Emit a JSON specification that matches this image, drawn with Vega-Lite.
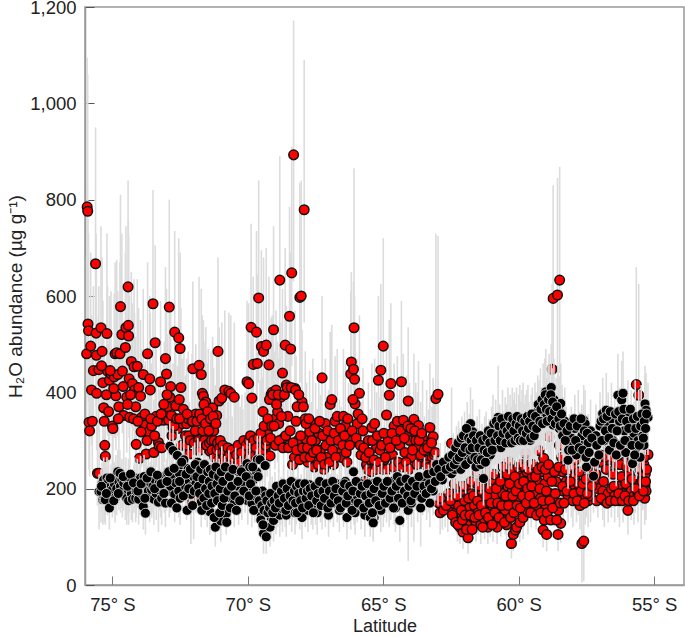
{"$schema":"https://vega.github.io/schema/vega-lite/v6.json","width":599,"height":578,"autosize":"none","padding":{"left":85,"top":7,"right":1,"bottom":52},"background":"white",
"data":{"values":[
{"lat":75.95,"r":480,"rl":340,"rh":680},{"lat":75.93,"r":785,"rl":560,"rh":1095},{"lat":75.91,"r":776,"rl":540,"rh":1060},{"lat":75.9,"r":542,"rl":390,"rh":760},{"lat":75.88,"r":528,"rl":380,"rh":730},{"lat":75.86,"r":338,"rl":240,"rh":470},{"lat":75.84,"r":320,"rl":225,"rh":450},{"lat":75.8,"r":496,"rl":350,"rh":690},{"lat":75.77,"r":405,"rl":290,"rh":560},{"lat":75.74,"r":340,"rl":240,"rh":480},{"lat":75.7,"r":445,"rl":320,"rh":620},{"lat":75.62,"r":667,"rl":470,"rh":950},{"lat":75.6,"r":523,"rl":370,"rh":730},{"lat":75.59,"r":477,"rl":340,"rh":660},{"lat":75.58,"r":398,"rl":280,"rh":560},{"lat":75.55,"r":232,"rl":165,"rh":330},{"lat":75.5,"r":447,"rl":315,"rh":620},{"lat":75.49,"r":232,"rl":165,"rh":325,"b":194,"bl":115,"bh":230},
{"lat":75.42,"r":534,"rl":380,"rh":745,"b":194,"bl":130,"bh":240},{"lat":75.38,"r":485,"rl":340,"rh":680,"b":210,"bl":150,"bh":255},{"lat":75.35,"r":420,"rl":300,"rh":590,"b":177,"bl":125,"bh":220},{"lat":75.32,"r":368,"rl":260,"rh":515,"b":218,"bl":160,"bh":265},{"lat":75.3,"r":340,"rl":240,"rh":480,"b":177,"bl":130,"bh":215},{"lat":75.28,"r":290,"rl":205,"rh":410,"b":205,"bl":150,"bh":250},{"lat":75.26,"r":267,"rl":190,"rh":375,"b":177,"bl":125,"bh":220},{"lat":75.2,"r":522,"rl":370,"rh":730,"b":222,"bl":160,"bh":265},{"lat":75.18,"r":444,"rl":310,"rh":620,"b":200,"bl":145,"bh":245},{"lat":75.14,"r":360,"rl":255,"rh":500,"b":215,"bl":155,"bh":260},{"lat":75.11,"r":425,"rl":300,"rh":600,"b":160,"bl":115,"bh":200},{"lat":75.05,"r":438,"rl":310,"rh":610,"b":205,"bl":150,"bh":250},{"lat":75.0,"r":330,"rl":235,"rh":460,"b":198,"bl":140,"bh":240},{"lat":74.98,"r":325,"rl":230,"rh":455,"b":218,"bl":160,"bh":265},{"lat":74.93,"r":432,"rl":305,"rh":605,"b":210,"bl":150,"bh":255},{"lat":74.9,"r":480,"rl":340,"rh":670,"b":181,"bl":130,"bh":225},{"lat":74.87,"r":393,"rl":280,"rh":550,"b":225,"bl":165,"bh":270},{"lat":74.84,"r":482,"rl":340,"rh":675,"b":200,"bl":145,"bh":245},{"lat":74.8,"r":437,"rl":310,"rh":610,"b":235,"bl":175,"bh":280},{"lat":74.76,"r":370,"rl":260,"rh":520,"b":215,"bl":155,"bh":260},{"lat":74.72,"r":480,"rl":340,"rh":670,"b":232,"bl":170,"bh":280},{"lat":74.7,"r":578,"rl":410,"rh":810,"b":205,"bl":150,"bh":250},{"lat":74.65,"r":520,"rl":370,"rh":730,"b":218,"bl":160,"bh":262},{"lat":74.63,"r":444,"rl":315,"rh":620,"b":195,"bl":140,"bh":240},{"lat":74.58,"r":352,"rl":250,"rh":490,"b":212,"bl":155,"bh":255},{"lat":74.52,"r":493,"rl":350,"rh":690,"b":185,"bl":135,"bh":230},{"lat":74.5,"r":534,"rl":380,"rh":745,"b":220,"bl":160,"bh":265},{"lat":74.47,"r":390,"rl":275,"rh":545,"b":180,"bl":125,"bh":225},{"lat":74.42,"r":619,"rl":440,"rh":840,"b":198,"bl":145,"bh":240},{"lat":74.41,"r":539,"rl":385,"rh":755,"b":218,"bl":160,"bh":262},{"lat":74.4,"r":517,"rl":365,"rh":725,"b":175,"bl":125,"bh":215},{"lat":74.38,"r":428,"rl":305,"rh":600,"b":205,"bl":150,"bh":250},{"lat":74.36,"r":348,"rl":245,"rh":485,"b":222,"bl":165,"bh":265},{"lat":74.3,"r":464,"rl":330,"rh":650,"b":190,"bl":135,"bh":235},{"lat":74.26,"r":418,"rl":295,"rh":585,"b":178,"bl":130,"bh":220},{"lat":74.2,"r":453,"rl":320,"rh":635,"b":205,"bl":150,"bh":250},{"lat":74.18,"r":405,"rl":285,"rh":565,"b":222,"bl":160,"bh":265},{"lat":74.14,"r":370,"rl":260,"rh":515,"b":180,"bl":130,"bh":225},{"lat":74.12,"r":292,"rl":205,"rh":410,"b":195,"bl":140,"bh":240},{"lat":74.08,"r":454,"rl":320,"rh":635,"b":218,"bl":160,"bh":262},{"lat":74.03,"r":410,"rl":290,"rh":575,"b":178,"bl":125,"bh":220},{"lat":74.0,"r":263,"rl":185,"rh":370,"b":200,"bl":145,"bh":245},{"lat":73.96,"r":392,"rl":280,"rh":550,"b":222,"bl":165,"bh":268},{"lat":73.92,"r":348,"rl":245,"rh":490,"b":190,"bl":140,"bh":232},{"lat":73.86,"r":437,"rl":310,"rh":615,"b":163,"bl":115,"bh":205},{"lat":73.83,"r":325,"rl":230,"rh":455,"b":225,"bl":165,"bh":270},{"lat":73.78,"r":332,"rl":235,"rh":465,"b":149,"bl":105,"bh":190},{"lat":73.75,"r":272,"rl":190,"rh":380,"b":215,"bl":155,"bh":260},{"lat":73.7,"r":480,"rl":340,"rh":670,"b":205,"bl":150,"bh":248},{"lat":73.67,"r":318,"rl":225,"rh":445,"b":195,"bl":140,"bh":235},{"lat":73.62,"r":428,"rl":305,"rh":600,"b":182,"bl":130,"bh":225},{"lat":73.6,"r":405,"rl":285,"rh":565,"b":212,"bl":155,"bh":255},{"lat":73.55,"r":330,"rl":235,"rh":460,"b":198,"bl":140,"bh":240},{"lat":73.5,"r":584,"rl":410,"rh":820,"b":205,"bl":150,"bh":250},{"lat":73.47,"r":275,"rl":195,"rh":385,"b":178,"bl":125,"bh":220},{"lat":73.42,"r":503,"rl":355,"rh":705,"b":218,"bl":160,"bh":262},{"lat":73.38,"r":350,"rl":245,"rh":490,"b":190,"bl":135,"bh":232},{"lat":73.3,"r":296,"rl":210,"rh":415,"b":172,"bl":110,"bh":215},{"lat":73.27,"r":288,"rl":200,"rh":405,"b":212,"bl":155,"bh":255},{"lat":73.22,"r":422,"rl":300,"rh":590,"b":195,"bl":140,"bh":240},{"lat":73.18,"r":285,"rl":200,"rh":400,"b":180,"bl":125,"bh":225},{"lat":73.12,"r":342,"rl":240,"rh":480,"b":225,"bl":165,"bh":270},{"lat":73.08,"r":360,"rl":255,"rh":505,"b":205,"bl":150,"bh":250},{"lat":73.04,"r":470,"rl":330,"rh":660,"b":170,"bl":120,"bh":215},{"lat":73.0,"r":438,"rl":310,"rh":615,"b":215,"bl":155,"bh":262},{"lat":72.96,"r":370,"rl":260,"rh":520,"b":232,"bl":170,"bh":280},{"lat":72.9,"r":577,"rl":410,"rh":800,"b":195,"bl":140,"bh":240},{"lat":72.88,"r":390,"rl":275,"rh":545,"b":288,"bl":220,"bh":340},{"lat":72.85,"r":412,"rl":290,"rh":575,"b":205,"bl":150,"bh":250},{"lat":72.8,"r":310,"rl":220,"rh":435,"b":225,"bl":165,"bh":270},{"lat":72.76,"r":327,"rl":230,"rh":460,"b":279,"bl":210,"bh":330},{"lat":72.7,"r":525,"rl":370,"rh":735,"b":188,"bl":130,"bh":230},{"lat":72.66,"r":372,"rl":260,"rh":520,"b":212,"bl":155,"bh":258},{"lat":72.6,"r":325,"rl":230,"rh":455,"b":269,"bl":205,"bh":320},{"lat":72.55,"r":513,"rl":360,"rh":720,"b":195,"bl":140,"bh":238},{"lat":72.53,"r":385,"rl":270,"rh":540,"b":232,"bl":170,"bh":280},{"lat":72.5,"r":491,"rl":345,"rh":690,"b":180,"bl":125,"bh":225},{"lat":72.47,"r":410,"rl":290,"rh":575,"b":250,"bl":190,"bh":300},{"lat":72.42,"r":335,"rl":235,"rh":470,"b":215,"bl":155,"bh":260},{"lat":72.36,"r":345,"rl":245,"rh":485,"b":260,"bl":195,"bh":310},{"lat":72.3,"r":310,"rl":220,"rh":435,"b":205,"bl":150,"bh":250},{"lat":72.26,"r":335,"rl":235,"rh":470,"b":190,"bl":135,"bh":235},{"lat":72.2,"r":345,"rl":245,"rh":485,"b":242,"bl":185,"bh":290},{"lat":72.16,"r":272,"rl":190,"rh":380,"b":215,"bl":155,"bh":262},{"lat":72.1,"r":168,"rl":85,"rh":235,"b":188,"bl":130,"bh":230},{"lat":72.06,"r":340,"rl":240,"rh":480,"b":205,"bl":150,"bh":250},{"lat":72.03,"r":449,"rl":315,"rh":630,"b":240,"bl":180,"bh":288},{"lat":72.0,"r":178,"rl":95,"rh":250,"b":225,"bl":165,"bh":270},{"lat":71.96,"r":302,"rl":215,"rh":425,"b":248,"bl":185,"bh":296},{"lat":71.92,"r":355,"rl":250,"rh":500,"b":210,"bl":150,"bh":255},{"lat":71.85,"r":280,"rl":195,"rh":395,"b":255,"bl":190,"bh":305},{"lat":71.8,"r":456,"rl":320,"rh":640,"b":228,"bl":165,"bh":275},{"lat":71.76,"r":280,"rl":200,"rh":395,"b":248,"bl":185,"bh":298},{"lat":71.72,"r":437,"rl":310,"rh":615,"b":172,"bl":120,"bh":215},{"lat":71.68,"r":398,"rl":280,"rh":560,"b":210,"bl":155,"bh":255},{"lat":71.64,"r":392,"rl":275,"rh":550,"b":232,"bl":170,"bh":280},{"lat":71.58,"r":360,"rl":255,"rh":505,"b":192,"bl":135,"bh":238},{"lat":71.55,"r":380,"rl":265,"rh":535,"b":215,"bl":155,"bh":260},{"lat":71.5,"r":330,"rl":230,"rh":460,"b":175,"bl":120,"bh":220},{"lat":71.46,"r":350,"rl":245,"rh":490,"b":205,"bl":150,"bh":250},{"lat":71.4,"r":278,"rl":195,"rh":390,"b":152,"bl":105,"bh":195},{"lat":71.36,"r":345,"rl":240,"rh":485,"b":225,"bl":165,"bh":270},{"lat":71.3,"r":368,"rl":260,"rh":515,"b":190,"bl":135,"bh":235},{"lat":71.26,"r":320,"rl":225,"rh":450,"b":215,"bl":155,"bh":262},{"lat":71.2,"r":295,"rl":210,"rh":415,"b":120,"bl":80,"bh":160},{"lat":71.15,"r":352,"rl":245,"rh":495,"b":232,"bl":170,"bh":280},{"lat":71.1,"r":485,"rl":340,"rh":680,"b":198,"bl":140,"bh":240},{"lat":71.06,"r":382,"rl":270,"rh":535,"b":215,"bl":155,"bh":262},{"lat":71.0,"r":282,"rl":195,"rh":395,"b":133,"bl":90,"bh":175},{"lat":70.96,"r":388,"rl":275,"rh":545,"b":240,"bl":180,"bh":288},{"lat":70.9,"r":285,"rl":200,"rh":400,"b":185,"bl":130,"bh":230},{"lat":70.85,"r":405,"rl":285,"rh":570,"b":222,"bl":160,"bh":268},{"lat":70.8,"r":245,"rl":170,"rh":345,"b":148,"bl":105,"bh":190},{"lat":70.76,"r":270,"rl":190,"rh":380,"b":205,"bl":150,"bh":250},{"lat":70.7,"r":402,"rl":285,"rh":565,"b":232,"bl":170,"bh":280},{"lat":70.63,"r":398,"rl":280,"rh":560,"b":180,"bl":125,"bh":225},{"lat":70.58,"r":248,"rl":175,"rh":350,"b":215,"bl":155,"bh":262},{"lat":70.5,"r":390,"rl":275,"rh":545,"b":170,"bl":120,"bh":215},{"lat":70.45,"r":270,"rl":190,"rh":380,"b":238,"bl":180,"bh":285},{"lat":70.4,"r":285,"rl":200,"rh":400,"b":205,"bl":145,"bh":250},{"lat":70.34,"r":272,"rl":190,"rh":385,"b":180,"bl":125,"bh":225},{"lat":70.28,"r":262,"rl":185,"rh":370,"b":222,"bl":160,"bh":268},{"lat":70.22,"r":282,"rl":195,"rh":395,"b":190,"bl":135,"bh":235},{"lat":70.18,"r":258,"rl":180,"rh":365,"b":240,"bl":180,"bh":288},{"lat":70.1,"r":285,"rl":200,"rh":400,"b":210,"bl":150,"bh":255},{"lat":70.03,"r":422,"rl":295,"rh":590,"b":252,"bl":190,"bh":300},{"lat":70.0,"r":270,"rl":190,"rh":380,"b":175,"bl":125,"bh":220},{"lat":69.97,"r":418,"rl":290,"rh":585,"b":225,"bl":165,"bh":270},{"lat":69.93,"r":285,"rl":200,"rh":400,"b":245,"bl":185,"bh":295},{"lat":69.88,"r":535,"rl":375,"rh":750,"b":205,"bl":150,"bh":250},{"lat":69.85,"r":388,"rl":270,"rh":545,"b":170,"bl":120,"bh":210},{"lat":69.8,"r":458,"rl":320,"rh":640,"b":218,"bl":160,"bh":265},{"lat":69.74,"r":268,"rl":190,"rh":375,"b":185,"bl":130,"bh":230},{"lat":69.68,"r":525,"rl":370,"rh":735,"b":235,"bl":175,"bh":282},{"lat":69.65,"r":460,"rl":325,"rh":645,"b":260,"bl":195,"bh":310},{"lat":69.6,"r":596,"rl":420,"rh":840,"b":160,"bl":110,"bh":205},{"lat":69.55,"r":302,"rl":210,"rh":425,"b":260,"bl":195,"bh":310},{"lat":69.5,"r":495,"rl":345,"rh":695,"b":145,"bl":95,"bh":190},{"lat":69.46,"r":305,"rl":215,"rh":430,"b":195,"bl":135,"bh":240},{"lat":69.42,"r":485,"rl":340,"rh":680,"b":107,"bl":65,"bh":145},{"lat":69.36,"r":283,"rl":200,"rh":400,"b":248,"bl":185,"bh":296},{"lat":69.32,"r":498,"rl":350,"rh":700,"b":100,"bl":65,"bh":140},{"lat":69.28,"r":318,"rl":225,"rh":445,"b":155,"bl":110,"bh":195},{"lat":69.22,"r":457,"rl":320,"rh":640,"b":170,"bl":120,"bh":215},{"lat":69.18,"r":268,"rl":190,"rh":375,"b":120,"bl":80,"bh":160},{"lat":69.14,"r":395,"rl":280,"rh":555,"b":140,"bl":95,"bh":185},{"lat":69.1,"r":400,"rl":280,"rh":560,"b":180,"bl":125,"bh":225},{"lat":69.05,"r":530,"rl":370,"rh":745,"b":134,"bl":90,"bh":175},{"lat":69.0,"r":345,"rl":240,"rh":485,"b":190,"bl":135,"bh":235},{"lat":68.96,"r":405,"rl":285,"rh":570,"b":150,"bl":105,"bh":195},{"lat":68.9,"r":360,"rl":255,"rh":505,"b":172,"bl":120,"bh":215},{"lat":68.86,"r":335,"rl":235,"rh":470,"b":195,"bl":140,"bh":240},{"lat":68.82,"r":633,"rl":445,"rh":890,"b":145,"bl":100,"bh":190},{"lat":68.78,"r":390,"rl":275,"rh":545,"b":180,"bl":125,"bh":225},{"lat":68.72,"r":440,"rl":310,"rh":615,"b":158,"bl":110,"bh":200},{"lat":68.68,"r":305,"rl":215,"rh":430,"b":205,"bl":150,"bh":250},{"lat":68.62,"r":498,"rl":350,"rh":700,"b":170,"bl":120,"bh":215},{"lat":68.58,"r":415,"rl":290,"rh":580,"b":145,"bl":100,"bh":190},{"lat":68.52,"r":350,"rl":245,"rh":490,"b":195,"bl":140,"bh":240},{"lat":68.46,"r":558,"rl":390,"rh":785,"b":178,"bl":125,"bh":225},{"lat":68.42,"r":490,"rl":345,"rh":690,"b":208,"bl":150,"bh":255},{"lat":68.38,"r":648,"rl":455,"rh":910,"b":160,"bl":110,"bh":205},{"lat":68.35,"r":250,"rl":175,"rh":350,"b":190,"bl":135,"bh":235},{"lat":68.31,"r":893,"rl":630,"rh":1172,"b":212,"bl":155,"bh":258},{"lat":68.26,"r":408,"rl":285,"rh":570,"b":150,"bl":105,"bh":195},{"lat":68.22,"r":340,"rl":240,"rh":475,"b":180,"bl":125,"bh":225},{"lat":68.15,"r":300,"rl":210,"rh":420,"b":200,"bl":145,"bh":245},{"lat":68.08,"r":597,"rl":420,"rh":835,"b":165,"bl":115,"bh":210},{"lat":68.03,"r":600,"rl":420,"rh":840,"b":185,"bl":130,"bh":230},{"lat":68.0,"r":380,"rl":265,"rh":530,"b":140,"bl":95,"bh":185},{"lat":67.92,"r":779,"rl":545,"rh":1090,"b":200,"bl":145,"bh":245},{"lat":67.88,"r":345,"rl":240,"rh":485,"b":172,"bl":120,"bh":215},{"lat":67.83,"r":300,"rl":210,"rh":420,"b":190,"bl":135,"bh":235},{"lat":67.78,"r":255,"rl":180,"rh":355,"b":155,"bl":110,"bh":200},{"lat":67.72,"r":318,"rl":225,"rh":445,"b":208,"bl":150,"bh":255},{"lat":67.66,"r":272,"rl":190,"rh":380,"b":180,"bl":125,"bh":225},{"lat":67.6,"r":335,"rl":235,"rh":470,"b":165,"bl":115,"bh":210},{"lat":67.55,"r":245,"rl":170,"rh":345,"b":195,"bl":140,"bh":240},{"lat":67.5,"r":300,"rl":210,"rh":420,"b":178,"bl":125,"bh":225},{"lat":67.44,"r":260,"rl":180,"rh":365,"b":150,"bl":105,"bh":195},{"lat":67.38,"r":315,"rl":220,"rh":440,"b":205,"bl":150,"bh":250},{"lat":67.32,"r":280,"rl":195,"rh":395,"b":185,"bl":130,"bh":230},{"lat":67.26,"r":430,"rl":300,"rh":600,"b":165,"bl":115,"bh":210},{"lat":67.2,"r":240,"rl":170,"rh":335,"b":195,"bl":140,"bh":240},{"lat":67.14,"r":335,"rl":235,"rh":470,"b":175,"bl":120,"bh":220},{"lat":67.08,"r":265,"rl":185,"rh":370,"b":205,"bl":150,"bh":250},{"lat":67.02,"r":290,"rl":205,"rh":405,"b":145,"bl":100,"bh":190},{"lat":66.96,"r":375,"rl":260,"rh":525,"b":185,"bl":130,"bh":230},{"lat":66.9,"r":385,"rl":270,"rh":540,"b":200,"bl":145,"bh":245},{"lat":66.84,"r":250,"rl":175,"rh":350,"b":170,"bl":120,"bh":215},{"lat":66.78,"r":340,"rl":240,"rh":475,"b":212,"bl":155,"bh":258},{"lat":66.7,"r":350,"rl":245,"rh":490,"b":185,"bl":130,"bh":230},{"lat":66.62,"r":275,"rl":190,"rh":385,"b":155,"bl":110,"bh":200},{"lat":66.55,"r":265,"rl":185,"rh":370,"b":205,"bl":150,"bh":250},{"lat":66.47,"r":350,"rl":245,"rh":490,"b":175,"bl":120,"bh":220},{"lat":66.4,"r":330,"rl":230,"rh":460,"b":215,"bl":155,"bh":260},{"lat":66.34,"r":255,"rl":180,"rh":355,"b":140,"bl":95,"bh":185},{"lat":66.28,"r":300,"rl":210,"rh":420,"b":190,"bl":135,"bh":235},{"lat":66.2,"r":438,"rl":305,"rh":610,"b":165,"bl":115,"bh":210},{"lat":66.18,"r":463,"rl":325,"rh":650,"b":205,"bl":150,"bh":250},{"lat":66.1,"r":448,"rl":315,"rh":630,"b":235,"bl":170,"bh":280},{"lat":66.08,"r":534,"rl":370,"rh":865,"b":178,"bl":125,"bh":225},{"lat":66.06,"r":427,"rl":300,"rh":600,"b":200,"bl":145,"bh":245},{"lat":66.04,"r":376,"rl":265,"rh":525,"b":150,"bl":105,"bh":195},{"lat":65.96,"r":335,"rl":235,"rh":470,"b":185,"bl":130,"bh":230},{"lat":65.88,"r":398,"rl":280,"rh":560,"b":212,"bl":155,"bh":258},{"lat":65.82,"r":270,"rl":190,"rh":380,"b":165,"bl":115,"bh":210},{"lat":65.75,"r":320,"rl":225,"rh":450,"b":195,"bl":140,"bh":240},{"lat":65.68,"r":215,"rl":150,"rh":300,"b":145,"bl":100,"bh":190},{"lat":65.62,"r":250,"rl":175,"rh":350,"b":205,"bl":150,"bh":250},{"lat":65.55,"r":300,"rl":210,"rh":420,"b":180,"bl":125,"bh":225},{"lat":65.48,"r":260,"rl":180,"rh":365,"b":140,"bl":100,"bh":185},{"lat":65.42,"r":327,"rl":230,"rh":460,"b":195,"bl":140,"bh":240},{"lat":65.37,"r":140,"rl":95,"rh":200,"b":129,"bl":90,"bh":170},{"lat":65.32,"r":335,"rl":235,"rh":470,"b":212,"bl":155,"bh":258},{"lat":65.25,"r":285,"rl":200,"rh":400,"b":170,"bl":120,"bh":215},{"lat":65.18,"r":425,"rl":295,"rh":600,"b":200,"bl":145,"bh":245},{"lat":65.12,"r":280,"rl":195,"rh":390,"b":185,"bl":130,"bh":230},{"lat":65.09,"r":446,"rl":310,"rh":625,"b":155,"bl":110,"bh":200},{"lat":65.06,"r":290,"rl":205,"rh":405,"b":210,"bl":155,"bh":255},{"lat":65.0,"r":496,"rl":345,"rh":720,"b":175,"bl":120,"bh":220},{"lat":64.96,"r":260,"rl":180,"rh":365,"b":195,"bl":140,"bh":240},{"lat":64.88,"r":353,"rl":245,"rh":495,"b":185,"bl":130,"bh":230},{"lat":64.82,"r":300,"rl":210,"rh":420,"b":205,"bl":150,"bh":250},{"lat":64.78,"r":394,"rl":275,"rh":550,"b":170,"bl":120,"bh":215},{"lat":64.72,"r":418,"rl":290,"rh":585,"b":190,"bl":135,"bh":235},{"lat":64.66,"r":270,"rl":190,"rh":380,"b":215,"bl":155,"bh":260},{"lat":64.6,"r":330,"rl":230,"rh":460,"b":180,"bl":125,"bh":225},{"lat":64.55,"r":255,"rl":180,"rh":355,"b":160,"bl":110,"bh":205},{"lat":64.48,"r":340,"rl":235,"rh":475,"b":225,"bl":165,"bh":270},{"lat":64.39,"r":290,"rl":205,"rh":405,"b":134,"bl":90,"bh":180},{"lat":64.33,"r":422,"rl":295,"rh":590,"b":195,"bl":140,"bh":240},{"lat":64.26,"r":342,"rl":240,"rh":480,"b":175,"bl":120,"bh":220},{"lat":64.2,"r":275,"rl":190,"rh":385,"b":212,"bl":155,"bh":258},{"lat":64.14,"r":310,"rl":215,"rh":435,"b":190,"bl":135,"bh":235},{"lat":64.08,"r":382,"rl":265,"rh":535,"b":155,"bl":50,"bh":200},{"lat":64.03,"r":300,"rl":210,"rh":420,"b":205,"bl":150,"bh":250},{"lat":63.96,"r":265,"rl":185,"rh":370,"b":170,"bl":120,"bh":215},{"lat":63.87,"r":344,"rl":240,"rh":480,"b":195,"bl":90,"bh":240},{"lat":63.8,"r":300,"rl":210,"rh":420,"b":215,"bl":155,"bh":260},{"lat":63.73,"r":285,"rl":200,"rh":400,"b":185,"bl":130,"bh":230},{"lat":63.7,"r":331,"rl":230,"rh":465,"b":210,"bl":150,"bh":255},{"lat":63.62,"r":270,"rl":190,"rh":380,"b":160,"bl":80,"bh":205},{"lat":63.55,"r":305,"rl":215,"rh":425,"b":200,"bl":145,"bh":245},{"lat":63.48,"r":250,"rl":175,"rh":350,"b":220,"bl":160,"bh":265},{"lat":63.4,"r":290,"rl":205,"rh":405,"b":190,"bl":135,"bh":235},{"lat":63.33,"r":260,"rl":180,"rh":365,"b":205,"bl":150,"bh":250},{"lat":63.28,"r":327,"rl":230,"rh":460,"b":170,"bl":120,"bh":215},{"lat":63.2,"r":265,"rl":185,"rh":370,"b":215,"bl":160,"bh":260},{"lat":63.16,"r":308,"rl":215,"rh":430,"b":195,"bl":145,"bh":240},{"lat":63.12,"r":270,"rl":190,"rh":380,"b":225,"bl":170,"bh":270},{"lat":63.06,"r":387,"rl":270,"rh":730,"b":235,"bl":175,"bh":280},{"lat":62.98,"r":396,"rl":275,"rh":725,"b":218,"bl":165,"bh":265},{"lat":62.9,"r":150,"rl":105,"rh":210,"b":245,"bl":185,"bh":295},{"lat":62.82,"r":165,"rl":115,"rh":230,"b":218,"bl":165,"bh":265},{"lat":62.72,"r":175,"rl":120,"rh":245,"b":250,"bl":190,"bh":300},
{"lat":62.62,"r":160,"rl":110,"rh":225,"b":235,"bl":175,"bh":285},{"lat":62.48,"r":294,"rl":205,"rh":410,"b":231,"bl":175,"bh":280},{"lat":62.42,"r":170,"rl":120,"rh":240,"b":262,"bl":200,"bh":315},{"lat":62.36,"r":190,"rl":135,"rh":265,"b":240,"bl":180,"bh":290},{"lat":62.3,"r":150,"rl":105,"rh":210,"b":275,"bl":210,"bh":330},{"lat":62.26,"r":130,"rl":90,"rh":185,"b":250,"bl":190,"bh":300},{"lat":62.22,"r":165,"rl":115,"rh":230,"b":280,"bl":215,"bh":340},{"lat":62.17,"r":120,"rl":85,"rh":170,"b":269,"bl":205,"bh":325},{"lat":62.14,"r":195,"rl":135,"rh":275,"b":240,"bl":180,"bh":290},{"lat":62.1,"r":145,"rl":100,"rh":205,"b":290,"bl":220,"bh":350},{"lat":62.06,"r":110,"rl":75,"rh":155,"b":262,"bl":200,"bh":315},{"lat":62.0,"r":175,"rl":120,"rh":245,"b":297,"bl":230,"bh":360},{"lat":61.96,"r":130,"rl":90,"rh":185,"b":250,"bl":190,"bh":300},{"lat":61.9,"r":205,"rl":145,"rh":290,"b":315,"bl":245,"bh":380},{"lat":61.87,"r":98,"rl":65,"rh":140,"b":275,"bl":210,"bh":330},{"lat":61.82,"r":160,"rl":110,"rh":225,"b":295,"bl":225,"bh":355},{"lat":61.78,"r":125,"rl":85,"rh":175,"b":335,"bl":260,"bh":410},{"lat":61.74,"r":190,"rl":130,"rh":265,"b":260,"bl":200,"bh":315},{"lat":61.7,"r":140,"rl":95,"rh":195,"b":318,"bl":250,"bh":385},{"lat":61.64,"r":165,"rl":115,"rh":230,"b":280,"bl":215,"bh":340},{"lat":61.58,"r":130,"rl":90,"rh":185,"b":245,"bl":185,"bh":295},{"lat":61.54,"r":210,"rl":145,"rh":295,"b":290,"bl":225,"bh":350},{"lat":61.5,"r":150,"rl":105,"rh":210,"b":270,"bl":205,"bh":325},{"lat":61.45,"r":180,"rl":125,"rh":250,"b":300,"bl":230,"bh":365},{"lat":61.4,"r":125,"rl":85,"rh":175,"b":250,"bl":190,"bh":300},{"lat":61.36,"r":195,"rl":135,"rh":275,"b":275,"bl":210,"bh":335},{"lat":61.3,"r":160,"rl":110,"rh":225,"b":221,"bl":165,"bh":270},{"lat":61.26,"r":135,"rl":95,"rh":190,"b":290,"bl":225,"bh":350},{"lat":61.2,"r":205,"rl":140,"rh":285,"b":297,"bl":230,"bh":360},{"lat":61.14,"r":120,"rl":85,"rh":170,"b":265,"bl":200,"bh":320},{"lat":61.1,"r":170,"rl":120,"rh":240,"b":285,"bl":220,"bh":345},{"lat":61.05,"r":145,"rl":100,"rh":205,"b":270,"bl":205,"bh":325},{"lat":61.0,"r":215,"rl":150,"rh":300,"b":305,"bl":235,"bh":370},{"lat":60.95,"r":130,"rl":90,"rh":185,"b":325,"bl":250,"bh":395},{"lat":60.9,"r":185,"rl":130,"rh":260,"b":285,"bl":220,"bh":345},{"lat":60.85,"r":155,"rl":110,"rh":220,"b":320,"bl":250,"bh":385},{"lat":60.8,"r":120,"rl":85,"rh":170,"b":295,"bl":230,"bh":355},{"lat":60.76,"r":205,"rl":140,"rh":285,"b":348,"bl":275,"bh":455},{"lat":60.7,"r":170,"rl":120,"rh":240,"b":310,"bl":240,"bh":375},{"lat":60.66,"r":140,"rl":100,"rh":200,"b":285,"bl":220,"bh":345},{"lat":60.6,"r":190,"rl":130,"rh":265,"b":335,"bl":260,"bh":405},{"lat":60.55,"r":225,"rl":155,"rh":315,"b":300,"bl":235,"bh":360},{"lat":60.5,"r":155,"rl":105,"rh":215,"b":325,"bl":255,"bh":390},{"lat":60.45,"r":125,"rl":85,"rh":175,"b":310,"bl":240,"bh":375},{"lat":60.4,"r":205,"rl":145,"rh":285,"b":340,"bl":265,"bh":410},{"lat":60.36,"r":256,"rl":180,"rh":360,"b":295,"bl":230,"bh":355},{"lat":60.32,"r":175,"rl":120,"rh":245,"b":325,"bl":255,"bh":395},{"lat":60.27,"r":86,"rl":55,"rh":130,"b":305,"bl":240,"bh":370},{"lat":60.24,"r":195,"rl":135,"rh":270,"b":340,"bl":265,"bh":410},{"lat":60.2,"r":105,"rl":70,"rh":150,"b":318,"bl":250,"bh":385},{"lat":60.16,"r":215,"rl":150,"rh":300,"b":330,"bl":260,"bh":400},{"lat":60.12,"r":114,"rl":78,"rh":160,"b":310,"bl":245,"bh":375},{"lat":60.08,"r":120,"rl":82,"rh":170,"b":340,"bl":265,"bh":410},{"lat":60.04,"r":235,"rl":165,"rh":330,"b":300,"bl":235,"bh":360},{"lat":60.0,"r":180,"rl":125,"rh":250,"b":325,"bl":255,"bh":395},{"lat":59.96,"r":130,"rl":90,"rh":185,"b":345,"bl":270,"bh":415},{"lat":59.92,"r":240,"rl":170,"rh":335,"b":315,"bl":245,"bh":380},{"lat":59.88,"r":205,"rl":140,"rh":285,"b":335,"bl":265,"bh":405},{"lat":59.84,"r":140,"rl":95,"rh":195,"b":346,"bl":270,"bh":420},{"lat":59.8,"r":225,"rl":155,"rh":315,"b":310,"bl":240,"bh":375},{"lat":59.76,"r":195,"rl":135,"rh":270,"b":325,"bl":255,"bh":395},{"lat":59.74,"r":273,"rl":190,"rh":380,"b":300,"bl":235,"bh":360},{"lat":59.7,"r":235,"rl":165,"rh":330,"b":335,"bl":260,"bh":405},{"lat":59.66,"r":152,"rl":105,"rh":215,"b":345,"bl":270,"bh":415},{"lat":59.62,"r":210,"rl":145,"rh":295,"b":315,"bl":245,"bh":380},{"lat":59.58,"r":250,"rl":175,"rh":350,"b":300,"bl":235,"bh":360},{"lat":59.54,"r":175,"rl":120,"rh":245,"b":325,"bl":250,"bh":395},{"lat":59.5,"r":225,"rl":155,"rh":315,"b":340,"bl":265,"bh":410},{"lat":59.45,"r":190,"rl":135,"rh":265,"b":315,"bl":245,"bh":380},{"lat":59.4,"r":245,"rl":170,"rh":345,"b":345,"bl":270,"bh":420},{"lat":59.36,"r":165,"rl":115,"rh":230,"b":330,"bl":255,"bh":400},{"lat":59.3,"r":215,"rl":150,"rh":300,"b":360,"bl":280,"bh":435},{"lat":59.25,"r":279,"rl":195,"rh":390,"b":349,"bl":275,"bh":425},{"lat":59.2,"r":180,"rl":125,"rh":250,"b":370,"bl":290,"bh":450},{"lat":59.16,"r":235,"rl":165,"rh":330,"b":340,"bl":265,"bh":410},{"lat":59.1,"r":114,"rl":78,"rh":160,"b":380,"bl":300,"bh":460},{"lat":59.08,"r":263,"rl":185,"rh":370,"b":360,"bl":280,"bh":435},{"lat":59.04,"r":210,"rl":145,"rh":295,"b":385,"bl":300,"bh":470},{"lat":59.0,"r":165,"rl":115,"rh":230,"b":401,"bl":315,"bh":490},{"lat":58.97,"r":105,"rl":70,"rh":150,"b":355,"bl":280,"bh":430},{"lat":58.92,"r":225,"rl":155,"rh":315,"b":375,"bl":295,"bh":455},{"lat":58.88,"r":308,"rl":215,"rh":430,"b":395,"bl":310,"bh":480},{"lat":58.84,"r":190,"rl":130,"rh":265,"b":345,"bl":270,"bh":420},{"lat":58.8,"r":240,"rl":165,"rh":335,"b":410,"bl":320,"bh":500},{"lat":58.77,"r":448,"rl":310,"rh":625,"b":370,"bl":290,"bh":450},{"lat":58.73,"r":595,"rl":415,"rh":830,"b":332,"bl":260,"bh":405},{"lat":58.7,"r":175,"rl":120,"rh":245,"b":385,"bl":300,"bh":470},{"lat":58.62,"r":215,"rl":150,"rh":300,"b":355,"bl":280,"bh":430},{"lat":58.57,"r":602,"rl":420,"rh":845,"b":340,"bl":265,"bh":410},{"lat":58.55,"r":105,"rl":70,"rh":150,"b":375,"bl":295,"bh":455},{"lat":58.53,"r":155,"rl":105,"rh":215,"b":350,"bl":275,"bh":425},{"lat":58.5,"r":290,"rl":205,"rh":405,"b":325,"bl":255,"bh":395},{"lat":58.49,"r":633,"rl":440,"rh":868,"b":360,"bl":285,"bh":435},{"lat":58.45,"r":128,"rl":88,"rh":180,"b":377,"bl":295,"bh":460},{"lat":58.4,"r":235,"rl":165,"rh":330,"b":345,"bl":270,"bh":415},{"lat":58.36,"r":195,"rl":135,"rh":270,"b":320,"bl":250,"bh":390},{"lat":58.3,"r":260,"rl":180,"rh":365,"b":340,"bl":265,"bh":410},{"lat":58.25,"r":215,"rl":150,"rh":300,"b":305,"bl":240,"bh":370},{"lat":58.18,"r":185,"rl":130,"rh":260,"b":259,"bl":200,"bh":315},{"lat":58.13,"r":240,"rl":165,"rh":335,"b":295,"bl":230,"bh":355},{"lat":58.06,"r":205,"rl":140,"rh":285,"b":305,"bl":240,"bh":370},{"lat":58.0,"r":175,"rl":120,"rh":245,"b":290,"bl":225,"bh":350},{"lat":57.93,"r":225,"rl":155,"rh":315,"b":325,"bl":255,"bh":395},{"lat":57.87,"r":190,"rl":130,"rh":265,"b":270,"bl":205,"bh":325},{"lat":57.8,"r":210,"rl":145,"rh":295,"b":335,"bl":260,"bh":405},{"lat":57.74,"r":165,"rl":115,"rh":230,"b":300,"bl":235,"bh":360},{"lat":57.67,"r":86,"rl":5,"rh":165,"b":310,"bl":240,"bh":375},{"lat":57.6,"r":91,"rl":8,"rh":170,"b":342,"bl":270,"bh":415},{"lat":57.55,"r":180,"rl":125,"rh":250,"b":335,"bl":260,"bh":405},{"lat":57.5,"r":200,"rl":140,"rh":280,"b":245,"bl":185,"bh":295},{"lat":57.44,"r":175,"rl":120,"rh":245,"b":295,"bl":230,"bh":355},{"lat":57.35,"r":185,"rl":130,"rh":260,"b":320,"bl":250,"bh":385},{"lat":57.24,"r":215,"rl":150,"rh":300,"b":226,"bl":170,"bh":275},{"lat":57.15,"r":230,"rl":160,"rh":320,"b":310,"bl":240,"bh":375},{"lat":57.08,"r":200,"rl":140,"rh":280,"b":297,"bl":230,"bh":360},{"lat":57.0,"r":255,"rl":180,"rh":355,"b":330,"bl":255,"bh":400},{"lat":56.9,"r":195,"rl":135,"rh":270,"b":356,"bl":280,"bh":430},{"lat":56.84,"r":175,"rl":120,"rh":245,"b":300,"bl":235,"bh":360},{"lat":56.77,"r":240,"rl":170,"rh":335,"b":363,"bl":285,"bh":440},{"lat":56.7,"r":190,"rl":130,"rh":265,"b":330,"bl":260,"bh":400},{"lat":56.65,"r":260,"rl":180,"rh":365,"b":280,"bl":215,"bh":340},{"lat":56.58,"r":200,"rl":140,"rh":280,"b":345,"bl":270,"bh":420},{"lat":56.52,"r":230,"rl":160,"rh":320,"b":300,"bl":235,"bh":360},{"lat":56.46,"r":185,"rl":130,"rh":260,"b":325,"bl":255,"bh":395},{"lat":56.4,"r":250,"rl":175,"rh":350,"b":270,"bl":205,"bh":330},{"lat":56.34,"r":205,"rl":140,"rh":285,"b":394,"bl":310,"bh":480},{"lat":56.28,"r":175,"rl":120,"rh":245,"b":340,"bl":265,"bh":410},{"lat":56.2,"r":225,"rl":155,"rh":315,"b":384,"bl":300,"bh":465},{"lat":56.15,"r":190,"rl":130,"rh":265,"b":398,"bl":315,"bh":485},{"lat":56.1,"r":255,"rl":180,"rh":355,"b":320,"bl":250,"bh":385},{"lat":56.05,"r":210,"rl":145,"rh":295,"b":275,"bl":210,"bh":335},{"lat":55.97,"r":155,"rl":105,"rh":215,"b":350,"bl":275,"bh":425},{"lat":55.92,"r":230,"rl":160,"rh":320,"b":300,"bl":235,"bh":365},{"lat":55.85,"r":195,"rl":135,"rh":270,"b":335,"bl":260,"bh":405},{"lat":55.8,"r":265,"rl":185,"rh":370,"b":252,"bl":195,"bh":305},{"lat":55.75,"r":185,"rl":125,"rh":260,"b":315,"bl":245,"bh":380},{"lat":55.7,"r":215,"rl":150,"rh":300,"b":350,"bl":275,"bh":425},{"lat":55.66,"r":416,"rl":275,"rh":660,"b":285,"bl":220,"bh":345},{"lat":55.6,"r":190,"rl":130,"rh":265,"b":300,"bl":235,"bh":360},{"lat":55.57,"r":394,"rl":220,"rh":625,"b":335,"bl":260,"bh":405},{"lat":55.52,"r":240,"rl":165,"rh":335,"b":265,"bl":200,"bh":320},{"lat":55.48,"r":200,"rl":95,"rh":280,"b":342,"bl":270,"bh":415},{"lat":55.42,"r":225,"rl":155,"rh":315,"b":310,"bl":240,"bh":375},{"lat":55.38,"r":250,"rl":175,"rh":350,"b":290,"bl":225,"bh":350},{"lat":55.35,"r":180,"rl":125,"rh":250,"b":360,"bl":285,"bh":435},{"lat":55.34,"r":205,"rl":140,"rh":285,"b":376,"bl":295,"bh":455},{"lat":55.33,"r":230,"rl":160,"rh":320,"b":345,"bl":270,"bh":415},{"lat":55.3,"r":195,"rl":135,"rh":270,"b":363,"bl":285,"bh":440},{"lat":55.23,"r":271,"rl":190,"rh":380,"b":348,"bl":270,"bh":420},
{"lat":75.4,"r":455,"b":205},{"lat":75.22,"r":395,"b":190},{"lat":75.08,"r":445,"b":222},{"lat":74.95,"r":408,"b":175},{"lat":74.78,"r":345,"b":190},{"lat":74.6,"r":412,"b":225},{"lat":74.44,"r":375,"b":205},{"lat":74.33,"r":395,"b":230},{"lat":74.22,"r":345,"b":212},{"lat":74.06,"r":340,"b":195},{"lat":73.94,"r":318,"b":210},{"lat":73.8,"r":355,"b":180},{"lat":73.72,"r":300,"b":222},{"lat":73.58,"r":345,"b":235},{"lat":73.44,"r":310,"b":200},{"lat":73.34,"r":340,"b":228},{"lat":73.2,"r":355,"b":210},{"lat":73.1,"r":375,"b":190},{"lat":72.98,"r":395,"b":215},{"lat":72.92,"r":342,"b":235},{"lat":72.82,"r":352,"b":170},{"lat":72.72,"r":330,"b":242},{"lat":72.62,"r":345,"b":160},{"lat":72.52,"r":345,"b":215},{"lat":72.44,"r":290,"b":255},{"lat":72.38,"r":365,"b":185},{"lat":72.28,"r":290,"b":230},{"lat":72.24,"r":355,"b":155},{"lat":72.18,"r":310,"b":200},{"lat":72.12,"r":300,"b":240},{"lat":72.04,"r":340,"b":165},{"lat":71.98,"r":295,"b":195},{"lat":71.94,"r":320,"b":250},{"lat":71.88,"r":340,"b":225},{"lat":71.82,"r":300,"b":205},{"lat":71.78,"r":355,"b":190},{"lat":71.74,"r":295,"b":240},{"lat":71.7,"r":345,"b":155},{"lat":71.66,"r":320,"b":220},{"lat":71.62,"r":375,"b":180},{"lat":71.6,"r":300,"b":250},{"lat":71.56,"r":335,"b":200},{"lat":71.52,"r":290,"b":165},{"lat":71.48,"r":360,"b":235},{"lat":71.44,"r":320,"b":190},{"lat":71.42,"r":295,"b":215},{"lat":71.38,"r":345,"b":240},{"lat":71.34,"r":300,"b":170},{"lat":71.32,"r":280,"b":205},{"lat":71.28,"r":350,"b":230},{"lat":71.24,"r":300,"b":140},{"lat":71.22,"r":265,"b":190},{"lat":71.18,"r":335,"b":245},{"lat":71.14,"r":280,"b":210},{"lat":71.12,"r":295,"b":175},{"lat":71.08,"r":260,"b":225},{"lat":71.04,"r":285,"b":150},{"lat":71.02,"r":300,"b":200},{"lat":70.98,"r":250,"b":235},{"lat":70.94,"r":275,"b":165},{"lat":70.92,"r":290,"b":215},{"lat":70.88,"r":265,"b":180},{"lat":70.83,"r":280,"b":245},{"lat":70.78,"r":260,"b":130},{"lat":70.74,"r":285,"b":195},{"lat":70.68,"r":270,"b":225},{"lat":70.65,"r":250,"b":160},{"lat":70.6,"r":280,"b":205},{"lat":70.55,"r":265,"b":240},{"lat":70.48,"r":245,"b":185},{"lat":70.42,"r":270,"b":155},{"lat":70.36,"r":290,"b":215},{"lat":70.3,"r":255,"b":175},{"lat":70.24,"r":275,"b":235},{"lat":70.15,"r":300,"b":195},{"lat":70.06,"r":290,"b":225},{"lat":69.95,"r":300,"b":185},{"lat":69.9,"r":310,"b":210},{"lat":69.82,"r":255,"b":245},{"lat":69.78,"r":300,"b":155},{"lat":69.7,"r":285,"b":195},{"lat":69.62,"r":305,"b":225},{"lat":69.58,"r":270,"b":175},{"lat":69.52,"r":315,"b":135},{"lat":69.48,"r":280,"b":165},{"lat":69.44,"r":360,"b":125},{"lat":69.4,"r":330,"b":155},{"lat":69.34,"r":290,"b":185},{"lat":69.3,"r":300,"b":175},{"lat":69.26,"r":345,"b":150},{"lat":69.2,"r":385,"b":160},{"lat":69.16,"r":305,"b":190},{"lat":69.12,"r":330,"b":170},{"lat":69.08,"r":395,"b":150},{"lat":69.03,"r":330,"b":175},{"lat":68.98,"r":290,"b":160},{"lat":68.94,"r":375,"b":205},{"lat":68.88,"r":395,"b":185},{"lat":68.84,"r":300,"b":170},{"lat":68.76,"r":350,"b":195},{"lat":68.7,"r":285,"b":210},{"lat":68.65,"r":395,"b":180},{"lat":68.6,"r":310,"b":155},{"lat":68.55,"r":410,"b":200},{"lat":68.5,"r":285,"b":165},{"lat":68.44,"r":320,"b":185},{"lat":68.4,"r":410,"b":215},{"lat":68.33,"r":295,"b":175},{"lat":68.28,"r":265,"b":195},{"lat":68.24,"r":405,"b":170},{"lat":68.2,"r":280,"b":205},{"lat":68.18,"r":370,"b":150},{"lat":68.12,"r":395,"b":190},{"lat":68.1,"r":260,"b":210},{"lat":68.05,"r":310,"b":175},{"lat":67.98,"r":285,"b":160},{"lat":67.95,"r":370,"b":195},{"lat":67.9,"r":265,"b":210},{"lat":67.85,"r":335,"b":180},{"lat":67.8,"r":285,"b":195},{"lat":67.75,"r":345,"b":165},{"lat":67.7,"r":265,"b":200},{"lat":67.64,"r":300,"b":185},{"lat":67.58,"r":275,"b":150},{"lat":67.52,"r":325,"b":205},{"lat":67.46,"r":280,"b":175},{"lat":67.4,"r":250,"b":190},{"lat":67.35,"r":340,"b":215},{"lat":67.29,"r":265,"b":165},{"lat":67.23,"r":310,"b":195},{"lat":67.17,"r":250,"b":180},{"lat":67.11,"r":290,"b":210},{"lat":67.05,"r":320,"b":160},{"lat":66.99,"r":255,"b":195},{"lat":66.93,"r":300,"b":170},{"lat":66.87,"r":280,"b":215},{"lat":66.81,"r":315,"b":185},{"lat":66.75,"r":265,"b":200},{"lat":66.66,"r":300,"b":175},{"lat":66.58,"r":325,"b":160},{"lat":66.5,"r":290,"b":195},{"lat":66.43,"r":310,"b":210},{"lat":66.37,"r":275,"b":170},{"lat":66.31,"r":345,"b":185},{"lat":66.24,"r":290,"b":205},{"lat":66.15,"r":320,"b":155},{"lat":66.12,"r":385,"b":195},{"lat":66.0,"r":305,"b":215},{"lat":65.93,"r":355,"b":170},{"lat":65.85,"r":290,"b":190},{"lat":65.78,"r":345,"b":205},{"lat":65.72,"r":285,"b":160},{"lat":65.65,"r":265,"b":185},{"lat":65.58,"r":240,"b":210},{"lat":65.52,"r":275,"b":170},{"lat":65.45,"r":235,"b":190},{"lat":65.4,"r":300,"b":150},{"lat":65.34,"r":260,"b":200},{"lat":65.28,"r":240,"b":175},{"lat":65.22,"r":310,"b":215},{"lat":65.15,"r":255,"b":165},{"lat":65.04,"r":240,"b":190},{"lat":64.98,"r":315,"b":205},{"lat":64.92,"r":265,"b":170},{"lat":64.85,"r":240,"b":215},{"lat":64.75,"r":285,"b":180},{"lat":64.68,"r":315,"b":195},{"lat":64.62,"r":245,"b":160},{"lat":64.52,"r":300,"b":205},{"lat":64.44,"r":255,"b":180},{"lat":64.36,"r":320,"b":215},{"lat":64.3,"r":245,"b":170},{"lat":64.22,"r":305,"b":195},{"lat":64.16,"r":255,"b":220},{"lat":64.1,"r":330,"b":185},{"lat":64.05,"r":240,"b":205},{"lat":63.98,"r":325,"b":175},{"lat":63.92,"r":280,"b":215},{"lat":63.84,"r":320,"b":190},{"lat":63.76,"r":250,"b":205},{"lat":63.68,"r":300,"b":225},{"lat":63.58,"r":315,"b":180},{"lat":63.5,"r":280,"b":205},{"lat":63.42,"r":250,"b":190},{"lat":63.36,"r":285,"b":230},{"lat":63.3,"r":245,"b":210},{"lat":63.22,"r":295,"b":200},{"lat":63.14,"r":250,"b":235},{"lat":63.08,"r":275,"b":215},{"lat":63.03,"r":245,"b":250},{"lat":62.95,"r":170,"b":240},{"lat":62.88,"r":180,"b":225},{"lat":62.78,"r":155,"b":255},{"lat":62.68,"r":165,"b":240},{"lat":62.58,"r":190,"b":265},{"lat":62.52,"r":175,"b":245},{"lat":62.45,"r":145,"b":270},{"lat":62.38,"r":210,"b":250},{"lat":62.33,"r":130,"b":285},{"lat":62.28,"r":185,"b":260},{"lat":62.24,"r":125,"b":295},{"lat":62.2,"r":205,"b":265},{"lat":62.12,"r":155,"b":305},{"lat":62.08,"r":135,"b":275},{"lat":62.04,"r":205,"b":310},{"lat":61.98,"r":145,"b":285},{"lat":61.93,"r":115,"b":325},{"lat":61.85,"r":180,"b":305},{"lat":61.8,"r":145,"b":280},{"lat":61.76,"r":215,"b":300},{"lat":61.72,"r":115,"b":285},{"lat":61.67,"r":185,"b":310},{"lat":61.62,"r":140,"b":265},{"lat":61.56,"r":235,"b":300},{"lat":61.52,"r":175,"b":260},{"lat":61.47,"r":145,"b":285},{"lat":61.42,"r":205,"b":310},{"lat":61.38,"r":165,"b":260},{"lat":61.33,"r":120,"b":300},{"lat":61.28,"r":220,"b":280},{"lat":61.23,"r":150,"b":255},{"lat":61.18,"r":185,"b":305},{"lat":61.16,"r":235,"b":275},{"lat":61.12,"r":140,"b":320},{"lat":61.07,"r":200,"b":295},{"lat":61.02,"r":170,"b":315},{"lat":60.98,"r":125,"b":280},{"lat":60.92,"r":230,"b":335},{"lat":60.88,"r":150,"b":300},{"lat":60.83,"r":200,"b":340},{"lat":60.78,"r":170,"b":310},{"lat":60.73,"r":140,"b":330},{"lat":60.68,"r":215,"b":300},{"lat":60.63,"r":165,"b":345},{"lat":60.58,"r":245,"b":315},{"lat":60.53,"r":130,"b":330},{"lat":60.48,"r":185,"b":295},{"lat":60.43,"r":230,"b":320},{"lat":60.38,"r":165,"b":350},{"lat":60.34,"r":210,"b":310},{"lat":60.3,"r":140,"b":330},{"lat":60.26,"r":240,"b":295},{"lat":60.22,"r":185,"b":345},{"lat":60.18,"r":150,"b":320},{"lat":60.14,"r":225,"b":300},{"lat":60.1,"r":195,"b":335},{"lat":60.06,"r":165,"b":350},{"lat":60.02,"r":245,"b":305},{"lat":59.98,"r":210,"b":330},{"lat":59.94,"r":160,"b":300},{"lat":59.9,"r":250,"b":345},{"lat":59.86,"r":185,"b":320},{"lat":59.82,"r":215,"b":300},{"lat":59.78,"r":245,"b":340},{"lat":59.72,"r":170,"b":315},{"lat":59.68,"r":200,"b":350},{"lat":59.64,"r":240,"b":325},{"lat":59.6,"r":185,"b":340},{"lat":59.56,"r":150,"b":305},{"lat":59.52,"r":205,"b":355},{"lat":59.48,"r":250,"b":330},{"lat":59.43,"r":170,"b":310},{"lat":59.38,"r":225,"b":350},{"lat":59.34,"r":145,"b":325},{"lat":59.28,"r":240,"b":375},{"lat":59.22,"r":200,"b":340},{"lat":59.18,"r":150,"b":365},{"lat":59.14,"r":245,"b":385},{"lat":59.12,"r":175,"b":335},{"lat":59.06,"r":135,"b":375},{"lat":59.02,"r":240,"b":395},{"lat":58.98,"r":195,"b":365},{"lat":58.95,"r":150,"b":340},{"lat":58.9,"r":250,"b":385},{"lat":58.86,"r":175,"b":360},{"lat":58.82,"r":135,"b":395},{"lat":58.78,"r":215,"b":345},{"lat":58.75,"r":160,"b":380},{"lat":58.68,"r":235,"b":360},{"lat":58.65,"r":190,"b":335},{"lat":58.6,"r":135,"b":370},{"lat":58.52,"r":245,"b":345},{"lat":58.47,"r":170,"b":330},{"lat":58.42,"r":265,"b":355},{"lat":58.38,"r":205,"b":310},{"lat":58.33,"r":170,"b":335},{"lat":58.28,"r":240,"b":300},{"lat":58.22,"r":195,"b":320},{"lat":58.16,"r":265,"b":280},{"lat":58.1,"r":215,"b":330},{"lat":58.03,"r":245,"b":280},{"lat":57.96,"r":190,"b":345},{"lat":57.9,"r":260,"b":300},{"lat":57.84,"r":175,"b":330},{"lat":57.77,"r":235,"b":285},{"lat":57.7,"r":195,"b":345},{"lat":57.64,"r":210,"b":280},{"lat":57.58,"r":170,"b":320},{"lat":57.52,"r":220,"b":265},{"lat":57.47,"r":190,"b":315},{"lat":57.4,"r":240,"b":275},{"lat":57.3,"r":205,"b":305},{"lat":57.2,"r":250,"b":255},{"lat":57.12,"r":175,"b":290},{"lat":57.04,"r":265,"b":270},{"lat":56.96,"r":180,"b":340},{"lat":56.93,"r":270,"b":300},{"lat":56.87,"r":215,"b":345},{"lat":56.8,"r":265,"b":320},{"lat":56.74,"r":170,"b":350},{"lat":56.67,"r":285,"b":305},{"lat":56.62,"r":175,"b":360},{"lat":56.55,"r":265,"b":325},{"lat":56.49,"r":205,"b":295},{"lat":56.43,"r":175,"b":355},{"lat":56.37,"r":275,"b":320},{"lat":56.31,"r":190,"b":360},{"lat":56.25,"r":250,"b":290},{"lat":56.18,"r":175,"b":345},{"lat":56.12,"r":280,"b":365},{"lat":56.08,"r":185,"b":300},{"lat":56.02,"r":245,"b":340},{"lat":55.94,"r":175,"b":325},{"lat":55.88,"r":275,"b":365},{"lat":55.82,"r":220,"b":290},{"lat":55.77,"r":175,"b":345},{"lat":55.72,"r":265,"b":270},{"lat":55.68,"r":200,"b":325},{"lat":55.62,"r":275,"b":350},{"lat":55.55,"r":185,"b":290},{"lat":55.5,"r":270,"b":330},{"lat":55.45,"r":215,"b":355},{"lat":55.4,"r":195,"b":305},{"lat":55.37,"r":265,"b":340},{"lat":55.32,"r":215,"b":325},{"lat":55.28,"r":240,"b":355}
]},
"encoding":{"x":{"field":"lat","type":"quantitative","scale":{"domain":[76.01,53.9],"nice":false,"zero":false},
"axis":{"title":"Latitude","values":[75,70,65,60,55],"labelExpr":"datum.value + '° S'","grid":false,"domain":true,"domainColor":"#999999","domainWidth":1.5,"tickColor":"#777777","tickSize":-9,"labelFont":"Liberation Sans","labelFontSize":18.5,"labelColor":"#222222","labelPadding":19,"labelFlush":false,"titleFont":"Liberation Sans","titleFontSize":18,"titleFontWeight":"normal","titleColor":"#222222","titlePadding":4}}},
"layer":[
{"transform":[{"filter":"isValid(datum.rl)"}],"mark":{"type":"rule","color":"#dcdcdc","strokeWidth":1.6},"encoding":{"y":{"field":"rl","type":"quantitative","scale":{"domain":[0,1200],"nice":false},"axis":{"title":"H₂O abundance (µg g⁻¹)","values":[0,200,400,600,800,1000,1200],"format":",d","grid":false,"domain":true,"domainColor":"#999999","domainWidth":1.5,"tickColor":"#555555","tickSize":-9,"labelFont":"Liberation Sans","labelFontSize":18.5,"labelColor":"#222222","labelPadding":18,"titleFont":"Liberation Sans","titleFontSize":19,"titleFontWeight":"normal","titleColor":"#222222","titlePadding":4}},"y2":{"field":"rh"}}},
{"mark":{"type":"point","shape":"circle","filled":true,"fill":"#ff0000","stroke":"#111111","strokeWidth":1.5,"size":92,"opacity":1},"encoding":{"y":{"field":"r","type":"quantitative"}}},
{"transform":[{"filter":"isValid(datum.bl)"}],"mark":{"type":"rule","color":"#dcdcdc","strokeWidth":1.6},"encoding":{"y":{"field":"bl","type":"quantitative"},"y2":{"field":"bh"}}},
{"transform":[{"filter":"isValid(datum.b)"}],"mark":{"type":"point","shape":"circle","filled":true,"fill":"#000000","stroke":"#e8e8e8","strokeWidth":0.8,"size":100,"opacity":1},"encoding":{"y":{"field":"b","type":"quantitative"}}}
],
"view":{"stroke":"#999999","strokeWidth":1.5}}
